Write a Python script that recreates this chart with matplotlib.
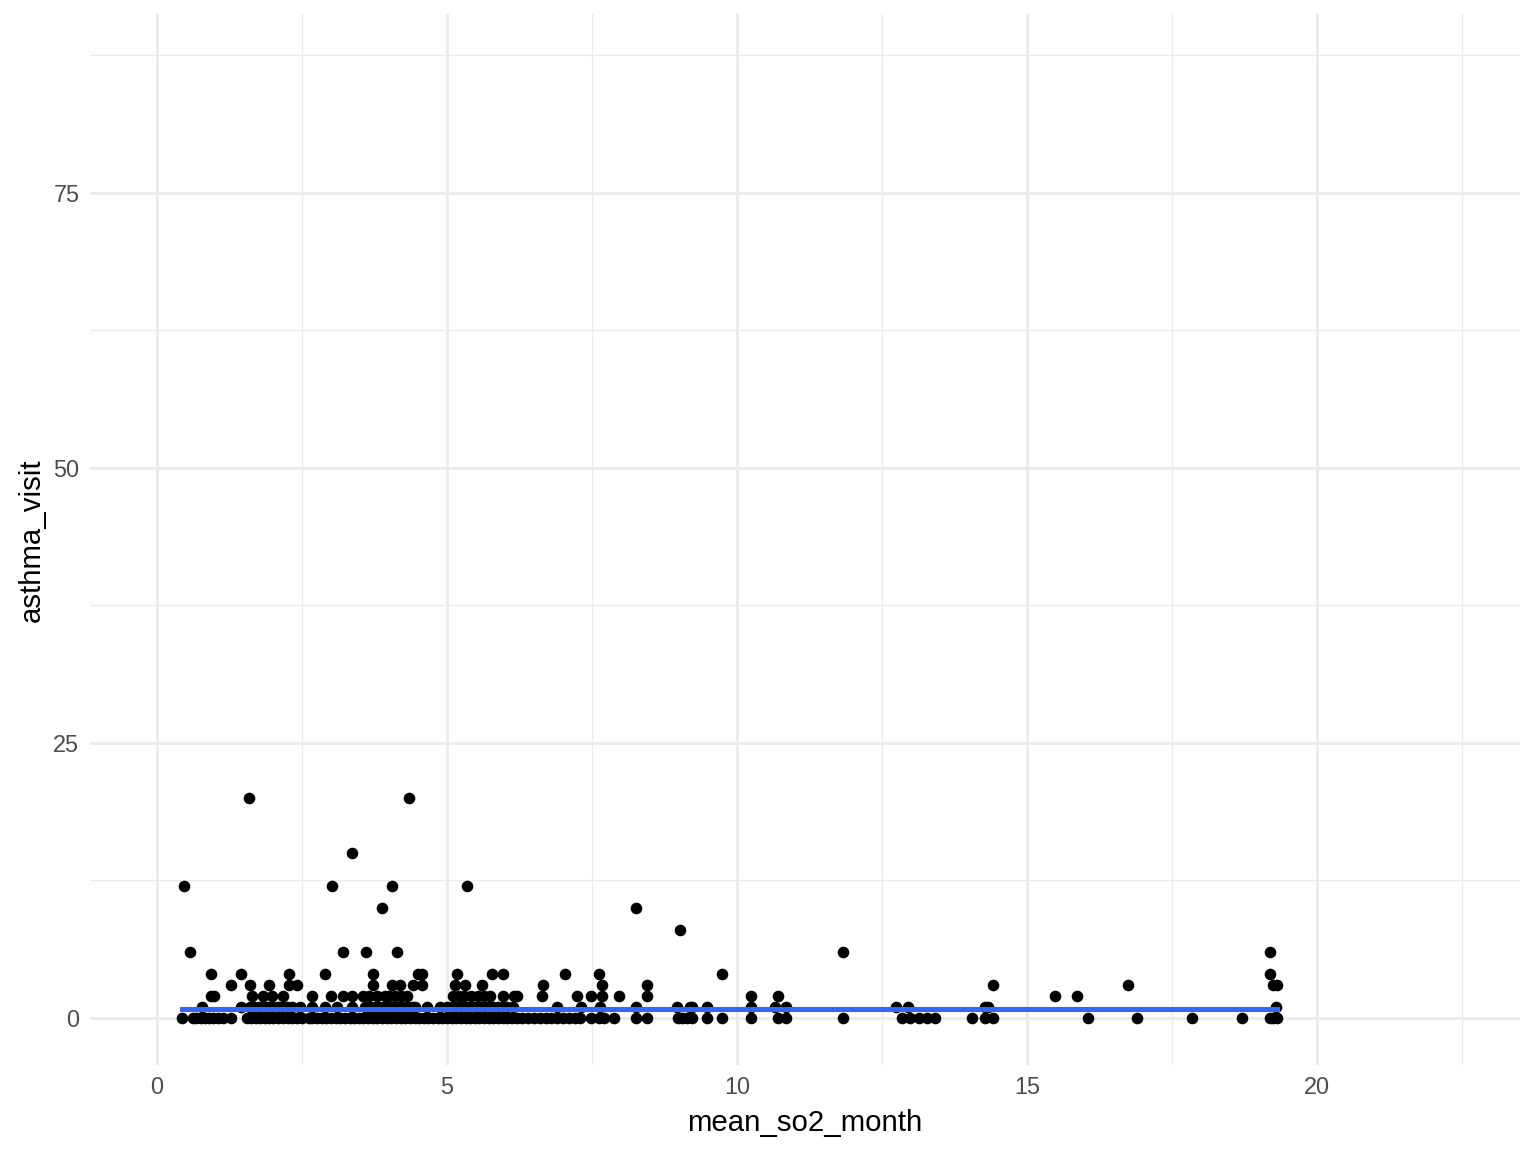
import numpy as np
import matplotlib.pyplot as plt

# points, grouped by asthma_visit value
x_at_0 = [0.43, 0.62, 0.68, 0.75, 0.82, 0.9, 0.97, 1.05, 1.14, 1.28, 1.55, 1.62, 1.7, 1.78,
          1.86, 1.93, 2.0, 2.08, 2.17, 2.25, 2.33, 2.41, 2.5, 2.62, 2.68, 2.76, 2.84, 2.92,
          3.0, 3.08, 3.16, 3.24, 3.32, 3.4, 3.48, 3.56, 3.64, 3.72, 3.8, 3.88, 3.96, 4.04,
          4.12, 4.2, 4.28, 4.36, 4.44, 4.52, 4.6, 4.68, 4.76, 4.84, 4.92, 5.0, 5.08, 5.16,
          5.24, 5.32, 5.4, 5.48, 5.56, 5.64, 5.72, 5.8, 5.88, 5.96, 6.04, 6.12, 6.2, 6.3,
          6.4, 6.5, 6.6, 6.7, 6.8, 6.9, 7.0, 7.1, 7.2, 7.3, 7.48, 7.62, 7.7, 7.88, 8.26,
          8.45, 8.98, 9.06, 9.14, 9.22, 9.48, 9.74, 10.24, 10.71, 10.84, 11.83, 12.84,
          12.98, 13.14, 13.28, 13.41, 14.05, 14.28, 14.41, 16.05, 16.9, 17.84, 18.7,
          19.19, 19.24, 19.31]
x_at_1 = [0.78, 1.45, 1.6, 1.68, 1.76, 1.84, 1.92, 2.0, 2.08, 2.16, 2.24, 2.33, 2.47, 2.67,
          2.9, 3.1, 3.36, 3.59, 3.67, 3.75, 3.83, 3.91, 3.99, 4.07, 4.15, 4.23, 4.31, 4.39,
          4.45, 4.66, 4.88, 5.0, 5.08, 5.16, 5.24, 5.32, 5.4, 5.48, 5.56, 5.64, 5.72, 5.8,
          5.88, 5.96, 6.04, 6.14, 6.9, 7.31, 7.64, 8.26, 8.97, 9.19, 9.22, 9.48, 10.24,
          10.66, 10.84, 12.74, 12.95, 14.28, 14.33, 19.29]
x_at_2 = [0.93, 0.98, 1.64, 1.83, 1.98, 2.17, 2.67, 3.0, 3.21, 3.36, 3.55, 3.65, 3.79, 3.93,
          4.0, 4.1, 4.2, 4.31, 5.1, 5.2, 5.3, 5.42, 5.53, 5.64, 5.74, 5.97, 6.16, 6.2, 6.64,
          7.24, 7.48, 7.67, 7.97, 8.45, 10.24, 10.71, 15.48, 15.86]
x_at_3 = [1.28, 1.6, 1.93, 2.28, 2.41, 3.72, 4.05, 4.19, 4.41, 4.57, 5.14, 5.31, 5.6, 6.66,
          7.67, 8.45, 14.41, 16.74, 19.24, 19.31]
x_at_4 = [0.93, 1.45, 2.28, 2.9, 3.72, 4.5, 4.57, 5.17, 5.78, 5.97, 7.03, 7.62, 9.74, 19.19]
x_at_6 = [0.57, 3.21, 3.6, 4.14, 11.83, 19.19]
x_at_8 = [9.02]
x_at_10 = [3.88, 8.26]
x_at_12 = [0.47, 3.02, 4.05, 5.34]
x_at_15 = [3.36]
x_at_20 = [1.59, 4.34]

# linear fit line as seen on the chart
fit_intercept = 0.82
fit_slope = 0.0

groups = {0: x_at_0, 1: x_at_1, 2: x_at_2, 3: x_at_3, 4: x_at_4, 6: x_at_6, 8: x_at_8,
          10: x_at_10, 12: x_at_12, 15: x_at_15, 20: x_at_20}
mean_so2_month = np.concatenate([np.array(v) for v in groups.values()])
asthma_visit = np.concatenate([np.full(len(v), k) for k, v in groups.items()])

plt.rcParams['font.family'] = ['Liberation Sans', 'DejaVu Sans']

fig = plt.figure(figsize=(8, 6), dpi=192)
ax = fig.add_axes([0.0586, 0.0755, 0.931, 0.912])

ax.scatter(mean_so2_month, asthma_visit, s=19, color='black', linewidths=0, zorder=3)

xs = np.array([mean_so2_month.min(), mean_so2_month.max()])
ax.plot(xs, fit_intercept + fit_slope * xs, color='#3366FF', lw=1.9, zorder=4)

ax.set_xlim(-1.155, 23.5)
ax.set_ylim(-4.27, 91.2)
ax.set_xticks([0, 5, 10, 15, 20])
ax.set_yticks([0, 25, 50, 75])
ax.set_xticks([2.5, 7.5, 12.5, 17.5, 22.5], minor=True)
ax.set_yticks([12.5, 37.5, 62.5, 87.5], minor=True)
ax.grid(which='major', color='#EBEBEB', lw=1.05)
ax.grid(which='minor', color='#EBEBEB', lw=0.5)
ax.set_axisbelow(True)
for s in ax.spines.values():
    s.set_visible(False)
ax.tick_params(which='both', length=0, labelsize=8.8, labelcolor='#4D4D4D', pad=4)

ax.set_xlabel('mean_so2_month', fontsize=11, labelpad=4)
ax.set_ylabel('asthma_visit', fontsize=11, labelpad=3)

fig.savefig('out.png', dpi=192, facecolor='white')
